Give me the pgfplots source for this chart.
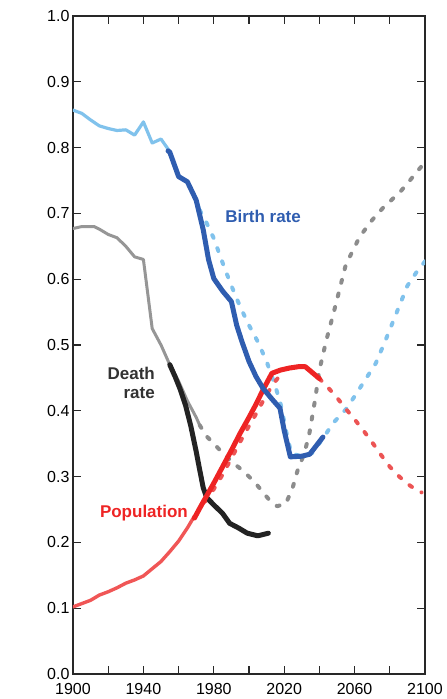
\documentclass[border=0pt]{standalone}
\usepackage{pgfplots}
\pgfplotsset{compat=1.18}
\usepackage{fontspec}
\setmainfont{Liberation Sans}
\definecolor{lblue}{RGB}{128,194,236}
\definecolor{dblue}{RGB}{47,93,176}
\definecolor{hgray}{RGB}{150,150,150}
\definecolor{dgray}{RGB}{140,140,140}
\definecolor{blk}{RGB}{35,35,35}
\definecolor{rsolid}{RGB}{238,36,36}
\definecolor{rhist}{RGB}{240,86,86}
\definecolor{rdash}{RGB}{236,84,84}
\definecolor{axcol}{RGB}{40,40,40}
\definecolor{txtgray}{RGB}{50,50,50}
\begin{document}
\begin{tikzpicture}
\begin{axis}[name=ax, at={(0,0)}, anchor=south west,
  scale only axis, width=352pt, height=658pt,
  xmin=1900, xmax=2100, ymin=0, ymax=1,
  xtick={1900,1940,1980,2020,2060,2100},
  minor xtick={1920,1960,2000,2040,2080},
  ytick={0,0.1,0.2,0.3,0.4,0.5,0.6,0.7,0.8,0.9,1.0},
  tick align=inside, major tick length=8pt, minor tick length=8pt,
  axis line style={line width=1.8pt, color=axcol},
  tick style={line width=1.3pt, color=axcol},
  tick label style={font=\fontsize{16}{19}\selectfont},
  /pgf/number format/assume math mode=true,
  xticklabel style={/pgf/number format/1000 sep={}, yshift=-6pt},
  yticklabel style={/pgf/number format/.cd, fixed, fixed zerofill, precision=1},
  every axis plot/.append style={line join=round, line cap=round},
]
% birth rate historical (light blue)
\addplot[lblue, line width=3.2pt] coordinates {
(1900,0.857)(1905,0.852)(1910,0.842)(1915,0.833)(1920,0.829)(1925,0.826)(1930,0.827)(1935,0.819)(1940,0.839)(1945,0.807)(1950,0.813)(1955,0.794)(1960,0.757)(1965,0.749)(1970,0.722)(1972,0.705)};
% birth rate projection (light blue dashed)
\addplot[lblue, line width=4pt, dash pattern=on 3pt off 11pt] coordinates {
(1972,0.705)(1976,0.685)(1980,0.662)(1985,0.625)(1990,0.59)(1995,0.558)(2000,0.53)(2005,0.505)(2010,0.475)(2015,0.437)(2018,0.41)(2021,0.37)(2024,0.335)(2030,0.331)(2036,0.336)(2042,0.358)(2048,0.382)(2055,0.402)(2060,0.422)(2066,0.447)(2072,0.472)(2078,0.51)(2084,0.55)(2090,0.59)(2095,0.61)(2100,0.627)};
% death rate historical (gray)
\addplot[hgray, line width=3pt] coordinates {
(1900,0.677)(1905,0.680)(1912,0.680)(1915,0.676)(1920,0.668)(1925,0.663)(1930,0.650)(1935,0.634)(1940,0.630)(1945,0.525)(1950,0.500)(1955,0.470)(1960,0.445)(1965,0.415)(1970,0.390)(1972,0.378)};
% death rate projection (gray dashed)
\addplot[dgray, line width=4pt, dash pattern=on 3pt off 11pt] coordinates {
(1972,0.378)(1976,0.361)(1980,0.350)(1985,0.336)(1991,0.321)(1996,0.310)(2000,0.300)(2004,0.289)(2008,0.276)(2012,0.263)(2016,0.255)(2021,0.259)(2025,0.285)(2028,0.313)(2031,0.332)(2034,0.361)(2037.5,0.416)(2040,0.462)(2044,0.508)(2048,0.548)(2055,0.622)(2063,0.665)(2070,0.690)(2076,0.708)(2086,0.733)(2092,0.752)(2100,0.778)};
% population historical (light red)
\addplot[rhist, line width=3.4pt] coordinates {
(1900,0.102)(1905,0.107)(1910,0.112)(1915,0.120)(1920,0.125)(1925,0.131)(1930,0.138)(1935,0.143)(1940,0.149)(1945,0.160)(1950,0.171)(1955,0.186)(1960,0.202)(1965,0.222)(1969,0.240)};
% population projection (red dashed)
\addplot[rdash, line width=4pt, dash pattern=on 3pt off 11pt] coordinates {
(1975,0.262)(1980,0.281)(1985,0.303)(1990,0.328)(1995,0.353)(2000,0.377)(2005,0.400)(2010,0.425)(2015,0.445)(2018,0.455)};
\addplot[rdash, line width=4pt, dash pattern=on 3pt off 11pt] coordinates {
(2040,0.449)(2045,0.435)(2050,0.420)(2055,0.403)(2060,0.387)(2065,0.370)(2070,0.352)(2075,0.333)(2080,0.315)(2085,0.301)(2090,0.289)(2095,0.280)(2098,0.276)};
% death rate observed (black)
\addplot[blk, line width=5pt] coordinates {
(1955,0.470)(1958,0.452)(1961,0.432)(1964,0.408)(1967,0.376)(1970,0.338)(1972,0.310)(1974,0.283)(1976,0.268)(1980,0.257)(1985,0.244)(1989,0.229)(1994,0.222)(1999,0.214)(2005,0.210)(2011,0.214)};
% population observed (red)
\addplot[rsolid, line width=5pt] coordinates {
(1969,0.237)(1972,0.252)(1976,0.271)(1980,0.290)(1985,0.315)(1990,0.340)(1995,0.366)(2000,0.390)(2004,0.410)(2008,0.432)(2013,0.457)(2018,0.462)(2023,0.465)(2028,0.467)(2032,0.467)(2036,0.458)(2040,0.449)};
% birth rate observed (dark blue)
\addplot[dblue, line width=5pt] coordinates {
(1954,0.795)(1955,0.793)(1960,0.756)(1965,0.748)(1970,0.720)(1974,0.675)(1977,0.630)(1980,0.601)(1985,0.582)(1990,0.566)(1993,0.530)(1996,0.505)(2000,0.475)(2004,0.452)(2008,0.434)(2013,0.418)(2017.6,0.404)(2020,0.370)(2023.5,0.330)(2030,0.331)(2034.5,0.334)(2042,0.360)};
% labels
\node[font=\bfseries\fontsize{17}{19}\selectfont, text=dblue] at (axis cs:2008,0.695) {Birth rate};
\node[anchor=east, align=right, inner sep=0pt, font=\bfseries\fontsize{17}{19}\selectfont, text=txtgray] at (axis cs:1946.6,0.443) {Death\\rate};
\node[font=\bfseries\fontsize{17}{19}\selectfont, text=rsolid] at (axis cs:1940.3,0.245) {Population};
\node[rotate=90, font=\bfseries\fontsize{19}{22}\selectfont] at (rel axis cs:-0.1534,0.4886) {Normalised Value};
\end{axis}
\pgfresetboundingbox
\path[use as bounding box] ([shift={(-73pt,-25pt)}]ax.south west) rectangle ([shift={(22pt,16pt)}]ax.north east);
\end{tikzpicture}
\end{document}
